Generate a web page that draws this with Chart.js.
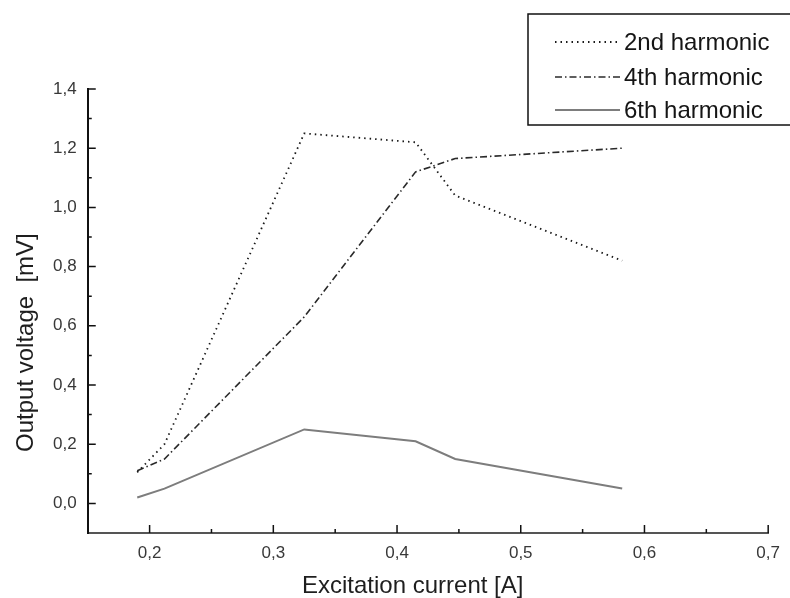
<!DOCTYPE html>
<html>
<head>
<meta charset="utf-8">
<script src="https://cdn.jsdelivr.net/npm/chart.js@4/dist/chart.umd.min.js"></script>
<style>
  html, body { margin: 0; padding: 0; background: #ffffff; }
  #wrap { width: 790px; height: 598px; }
</style>
</head>
<body>
<div id="wrap"><canvas id="c" width="790" height="598"></canvas></div>
<script>
// ---- data ----
const excitationCurrent = [0.19, 0.212, 0.325, 0.415, 0.447, 0.582];
const harmonic2 = [0.105, 0.20, 1.25, 1.22, 1.04, 0.82];
const harmonic4 = [0.11, 0.15, 0.63, 1.12, 1.165, 1.20];
const harmonic6 = [0.02, 0.05, 0.25, 0.21, 0.15, 0.05];
const seriesLabels = ['2nd harmonic', '4th harmonic', '6th harmonic'];
const xMajorTicks = [0.2, 0.3, 0.4, 0.5, 0.6, 0.7];
const xMinorTicks = [0.25, 0.35, 0.45, 0.55, 0.65];
const yMajorTicks = [0.0, 0.2, 0.4, 0.6, 0.8, 1.0, 1.2, 1.4];
const yMinorTicks = [0.1, 0.3, 0.5, 0.7, 0.9, 1.1, 1.3];
const xTitle = 'Excitation current [A]';
const yTitle = 'Output voltage  [mV]';

const FONT = '"Liberation Sans", Arial, Helvetica, sans-serif';
const toPoints = ys => excitationCurrent.map((x, i) => ({ x: x, y: ys[i] }));
const fmt = v => Number(v).toFixed(1).replace('.', ',');

const styles = [
  { borderColor: '#1a1a1a', borderWidth: 1.8, borderDash: [1.5, 4] },
  { borderColor: '#2a2a2a', borderWidth: 1.6, borderDash: [7, 3, 1.5, 3] },
  { borderColor: '#7d7d7d', borderWidth: 2, borderDash: [] }
];
const seriesValues = [harmonic2, harmonic4, harmonic6];

const datasets = seriesValues.map((vals, i) => Object.assign({
  label: seriesLabels[i],
  data: toPoints(vals),
  showLine: true,
  fill: false,
  tension: 0,
  pointRadius: 0,
  pointHoverRadius: 0
}, styles[i]));

const innerTicks = {
  id: 'innerTicks',
  afterDraw(chart) {
    const ctx = chart.ctx, xs = chart.scales.x, ys = chart.scales.y, a = chart.chartArea;
    ctx.save();
    ctx.strokeStyle = '#111';
    ctx.lineWidth = 1.5;
    ctx.beginPath();
    yMajorTicks.forEach(v => { const p = ys.getPixelForValue(v); ctx.moveTo(a.left, p); ctx.lineTo(a.left + 8, p); });
    yMinorTicks.forEach(v => { const p = ys.getPixelForValue(v); ctx.moveTo(a.left, p); ctx.lineTo(a.left + 4, p); });
    xMajorTicks.forEach(v => { const p = xs.getPixelForValue(v); ctx.moveTo(p, a.bottom); ctx.lineTo(p, a.bottom - 8); });
    xMinorTicks.forEach(v => { const p = xs.getPixelForValue(v); ctx.moveTo(p, a.bottom); ctx.lineTo(p, a.bottom - 4); });
    ctx.stroke();

    // axis titles
    ctx.fillStyle = '#1e1e1e';
    ctx.font = '24px ' + FONT;
    ctx.textAlign = 'left';
    ctx.textBaseline = 'alphabetic';
    ctx.fillText(xTitle, 302, 593);
    ctx.save();
    ctx.translate(33, 452);
    ctx.rotate(-Math.PI / 2);
    ctx.fillText(yTitle, 0, 0);
    ctx.restore();

    // legend box
    ctx.strokeStyle = '#111';
    ctx.lineWidth = 1.5;
    ctx.strokeRect(528, 14, 270, 111);
    const rows = [42, 77, 110];
    ctx.font = '24px ' + FONT;
    ctx.textBaseline = 'middle';
    chart.data.datasets.forEach((ds, i) => {
      ctx.save();
      ctx.strokeStyle = ds.borderColor;
      ctx.lineWidth = ds.borderWidth;
      ctx.setLineDash(ds.borderDash || []);
      ctx.beginPath();
      ctx.moveTo(555, rows[i]);
      ctx.lineTo(620, rows[i]);
      ctx.stroke();
      ctx.restore();
      ctx.fillStyle = '#151515';
      ctx.fillText(ds.label, 624, rows[i] + 1);
    });
    ctx.restore();
  }
};

new Chart(document.getElementById('c'), {
  type: 'scatter',
  data: { datasets: datasets },
  options: {
    responsive: false,
    animation: false,
    events: [],
    layout: { padding: { left: 0, top: 89, right: 17.5, bottom: 0 } },
    plugins: { legend: { display: false }, tooltip: { enabled: false } },
    scales: {
      x: {
        type: 'linear',
        min: 0.15,
        max: 0.7,
        afterBuildTicks: s => { s.ticks = xMajorTicks.map(v => ({ value: v })); },
        afterFit: s => { s.height = 65; },
        grid: { display: true, drawOnChartArea: false, drawTicks: false },
        border: { display: true, color: '#555', width: 2 },
        ticks: { padding: 10, color: '#383838', font: { family: FONT, size: 17 }, callback: v => fmt(v), maxRotation: 0 },
        title: { display: false }
      },
      y: {
        type: 'linear',
        min: -0.1,
        max: 1.4,
        afterBuildTicks: s => { s.ticks = yMajorTicks.map(v => ({ value: v })); },
        afterFit: s => { s.width = 87.75; },
        grid: { display: true, drawOnChartArea: false, drawTicks: false },
        border: { display: true, color: '#111', width: 2 },
        ticks: { padding: 11, color: '#383838', font: { family: FONT, size: 17 }, callback: v => fmt(v) },
        title: { display: false }
      }
    }
  },
  plugins: [innerTicks]
});
</script>
</body>
</html>
